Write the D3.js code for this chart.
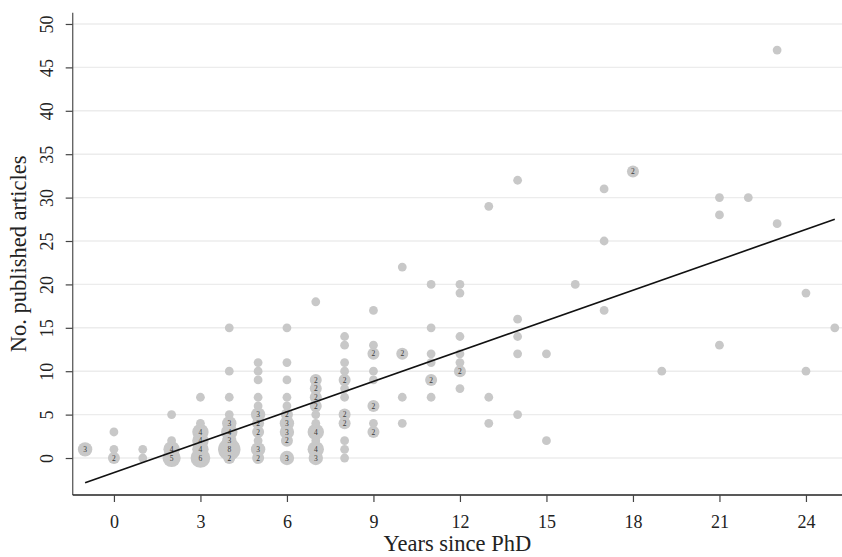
<!DOCTYPE html>
<html>
<head>
<meta charset="utf-8">
<script src="https://cdn.jsdelivr.net/npm/d3@7"></script>
<style>
  html, body { margin: 0; padding: 0; background: #ffffff; }
  svg { display: block; }
  text { font-family: "Liberation Serif", "Times New Roman", serif; }
</style>
</head>
<body>
<svg id="chart" width="842" height="557"></svg>
<script>
// Years since PhD, number of published articles, and how many people share each pair
const years    = [-1, 0, 0, 0, 1, 1, 2, 2, 2, 2,
                  3, 3, 3, 3, 3, 3,
                  4, 4, 4, 4, 4, 4, 4, 4, 4,
                  5, 5, 5, 5, 5, 5, 5, 5, 5, 5, 5,
                  6, 6, 6, 6, 6, 6, 6, 6, 6, 6,
                  7, 7, 7, 7, 7, 7, 7, 7, 7, 7, 7,
                  8, 8, 8, 8, 8, 8, 8, 8, 8, 8, 8, 8,
                  9, 9, 9, 9, 9, 9, 9, 9,
                  10, 10, 10, 10,
                  11, 11, 11, 11, 11, 11,
                  12, 12, 12, 12, 12, 12, 12,
                  13, 13, 13,
                  14, 14, 14, 14, 14,
                  15, 15, 16, 17, 17, 17, 18, 19,
                  21, 21, 21, 22, 23, 23, 24, 24, 25];
const articles = [1, 3, 1, 0, 1, 0, 5, 2, 1, 0,
                  7, 4, 3, 2, 1, 0,
                  15, 10, 7, 5, 4, 3, 2, 1, 0,
                  11, 10, 9, 7, 6, 5, 4, 3, 2, 1, 0,
                  15, 11, 9, 7, 6, 5, 4, 3, 2, 0,
                  18, 9, 8, 7, 6, 5, 4, 3, 2, 1, 0,
                  14, 13, 11, 10, 9, 8, 7, 5, 4, 2, 1, 0,
                  17, 13, 12, 10, 9, 6, 4, 3,
                  22, 12, 7, 4,
                  20, 15, 12, 11, 9, 7,
                  20, 19, 14, 12, 11, 10, 8,
                  29, 7, 4,
                  32, 16, 14, 12, 5,
                  12, 2, 20, 31, 25, 17, 33, 10,
                  30, 28, 13, 30, 47, 27, 19, 10, 15];
const counts   = [3, 1, 1, 2, 1, 1, 1, 1, 4, 5,
                  1, 1, 4, 4, 4, 6,
                  1, 1, 1, 1, 3, 4, 3, 8, 2,
                  1, 1, 1, 1, 1, 3, 2, 2, 1, 3, 2,
                  1, 1, 1, 1, 1, 2, 3, 3, 2, 3,
                  1, 2, 2, 2, 2, 1, 1, 4, 1, 4, 3,
                  1, 1, 1, 1, 2, 1, 1, 2, 2, 1, 1, 1,
                  1, 1, 2, 1, 1, 2, 1, 2,
                  1, 2, 1, 1,
                  1, 1, 1, 1, 2, 1,
                  1, 1, 1, 1, 1, 2, 1,
                  1, 1, 1,
                  1, 1, 1, 1, 1,
                  1, 1, 1, 1, 1, 1, 2, 1,
                  1, 1, 1, 1, 1, 1, 1, 1, 1];

// Axis ticks
const xTicks = [0, 3, 6, 9, 12, 15, 18, 21, 24];
const yTicks = [0, 5, 10, 15, 20, 25, 30, 35, 40, 45, 50];

// Fitted line: articles = intercept + slope * years
const fitIntercept = -1.68;
const fitSlope = 1.167;
const fitRange = [-1, 25];

const points = years.map((yr, i) => ({ x: yr, y: articles[i], n: counts[i] }));

const svg = d3.select("#chart");
const plotLeft = 72.7, plotRight = 842, plotTop = 12.7, plotBottom = 495;

const x = d3.scaleLinear().domain([-1.43, 25.25]).range([plotLeft, plotRight]);
const y = d3.scaleLinear().domain([-4.26, 51.3]).range([plotBottom, plotTop]);
const r = d3.scalePow().exponent(0.45).domain([0, 1]).range([0, 4.4]);

// Horizontal grid
svg.append("g")
  .selectAll("line")
  .data(yTicks)
  .join("line")
  .attr("x1", plotLeft).attr("x2", plotRight)
  .attr("y1", d => y(d)).attr("y2", d => y(d))
  .attr("stroke", "#ececec")
  .attr("stroke-width", 1.4);

// Markers, largest first so small ones stay visible
const sorted = points.slice().sort((a, b) => b.n - a.n);
svg.append("g")
  .selectAll("circle")
  .data(sorted)
  .join("circle")
  .attr("cx", d => x(d.x))
  .attr("cy", d => y(d.y))
  .attr("r", d => r(d.n))
  .attr("fill", "#c8c8c8");

svg.append("g")
  .selectAll("text")
  .data(points.filter(d => d.n > 1))
  .join("text")
  .attr("x", d => x(d.x))
  .attr("y", d => y(d.y))
  .attr("dy", "0.35em")
  .attr("text-anchor", "middle")
  .attr("font-size", 7.5)
  .attr("fill", "#3a3a3a")
  .text(d => d.n);

// Fitted line
const fitLine = d3.line().x(d => x(d)).y(d => y(fitIntercept + fitSlope * d));
svg.append("path")
  .attr("d", fitLine(fitRange))
  .attr("fill", "none")
  .attr("stroke", "#111")
  .attr("stroke-width", 1.6);

// Axes
const yAxis = svg.append("g")
  .attr("transform", `translate(${plotLeft},0)`)
  .call(d3.axisLeft(y).tickValues(yTicks).tickSize(7).tickSizeOuter(0));
yAxis.select(".domain").attr("d", `M0,${plotTop}V${plotBottom}`).attr("stroke", "#666").attr("stroke-width", 1.4);
yAxis.selectAll(".tick line").attr("stroke", "#444").attr("stroke-width", 1.2);
yAxis.selectAll(".tick text")
  .attr("transform", "rotate(-90)")
  .attr("x", 0).attr("y", -20).attr("dy", 0)
  .attr("text-anchor", "middle")
  .attr("font-size", 18)
  .attr("font-family", "Liberation Serif, serif")
  .attr("fill", "#222");

const xAxis = svg.append("g")
  .attr("transform", `translate(0,${plotBottom})`)
  .call(d3.axisBottom(x).tickValues(xTicks).tickSize(7).tickSizeOuter(0).tickPadding(13));
xAxis.select(".domain").attr("d", `M${plotLeft},0H${plotRight}`).attr("stroke", "#222").attr("stroke-width", 1.4);
xAxis.selectAll(".tick line").attr("stroke", "#444").attr("stroke-width", 1.2);
xAxis.selectAll(".tick text")
  .attr("font-size", 18)
  .attr("font-family", "Liberation Serif, serif")
  .attr("fill", "#222");

// Axis titles
svg.append("text")
  .attr("x", (plotLeft + plotRight) / 2)
  .attr("y", 551)
  .attr("text-anchor", "middle")
  .attr("font-size", 22.5)
  .attr("fill", "#222")
  .text("Years since PhD");

svg.append("text")
  .attr("transform", `translate(26,${(plotTop + plotBottom) / 2}) rotate(-90)`)
  .attr("text-anchor", "middle")
  .attr("font-size", 22.5)
  .attr("fill", "#222")
  .text("No. published articles");
</script>
</body>
</html>
